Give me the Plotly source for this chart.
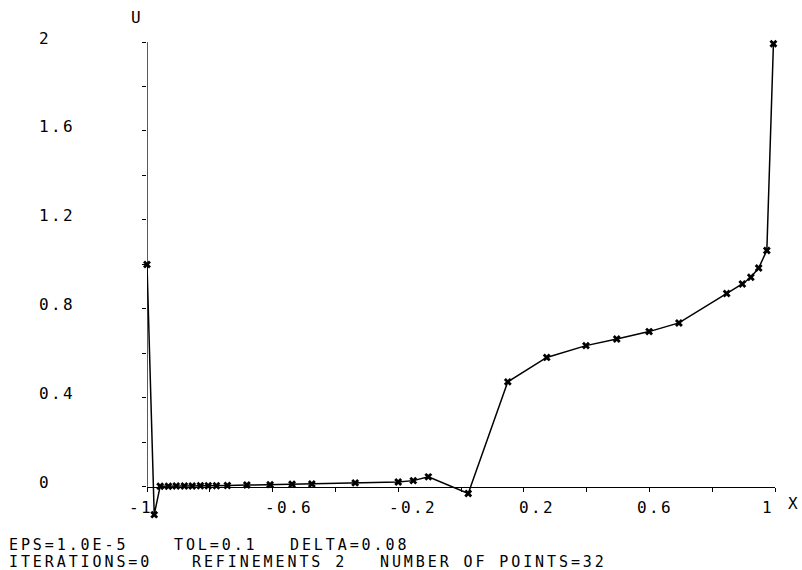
import plotly.graph_objects as go

# Computed solution U(X) at the 32 mesh points
x_vals = [-1.0, -0.977, -0.958, -0.932, -0.907, -0.881, -0.856, -0.830, -0.805,
          -0.779, -0.744, -0.682, -0.608, -0.538, -0.475, -0.337, -0.200, -0.152,
          -0.104, 0.023, 0.149, 0.273, 0.398, 0.496, 0.599, 0.694, 0.846, 0.896,
          0.923, 0.948, 0.974, 0.995]
u_vals = [1.0, -0.125, 0.003, 0.003, 0.004, 0.004, 0.004, 0.005, 0.005,
          0.005, 0.006, 0.008, 0.010, 0.012, 0.013, 0.018, 0.022, 0.028,
          0.045, -0.030, 0.472, 0.582, 0.635, 0.665, 0.698, 0.737, 0.869, 0.912,
          0.942, 0.984, 1.063, 1.992]

x_ticks = [-1, -0.8, -0.6, -0.4, -0.2, 0, 0.2, 0.4, 0.6, 0.8, 1]
y_ticks = [0, 0.2, 0.4, 0.6, 0.8, 1.0, 1.2, 1.4, 1.6, 1.8, 2.0]
x_label_vals = [-1, -0.6, -0.2, 0.2, 0.6, 1]
x_label_text = ["-1", "-0.6", "-0.2", "0.2", "0.6", "1"]
y_label_vals = [0, 0.4, 0.8, 1.2, 1.6, 2]
y_label_text = ["0", "0.4", "0.8", "1.2", "1.6", "2"]

info_line1 = ["EPS=1.0E-5", "TOL=0.1", "DELTA=0.08"]
info_line2 = ["ITERATIONS=0", "REFINEMENTS 2", "NUMBER OF POINTS=32"]

W, H = 802, 570
ML, MR, MT, MB = 147, 27, 42, 52
PW, PH = W - ML - MR, H - MT - MB
Y_MIN, Y_MAX = -0.14, 2.0

FONT = dict(family="DejaVu Sans Mono", size=16, color="black")
INFO_FONT = dict(family="DejaVu Sans Mono", size=15, color="black")


def px_x(p):
    return (p - ML) / PW


def px_y(p):
    return (H - MB - p) / PH


def spaced(s, gap=2.4):
    return '<span style="letter-spacing:%.1fpx">' % gap + s + "</span>"


fig = go.Figure()
fig.add_trace(go.Scatter(
    x=x_vals, y=u_vals, mode="lines+markers",
    line=dict(color="black", width=1.5),
    marker=dict(symbol="x", size=7, color="black"),
    cliponaxis=False, showlegend=False,
))

# vertical axis line only from U=0 to U=2
fig.add_shape(type="line", xref="x", yref="y", x0=-1, x1=-1, y0=0, y1=2,
              line=dict(color="black", width=1.3))

annotations = []
# x tick labels (plotter offsets relative to tick)
x_label_dx = [-6, 16, 15, 13, 6, -7]
for v, t, dx in zip(x_label_vals, x_label_text, x_label_dx):
    annotations.append(dict(x=v, y=px_y(507), xref="x", yref="paper", text=spaced(t),
                            showarrow=False, xshift=dx, font=FONT,
                            xanchor="center", yanchor="middle"))
# y tick labels, left aligned
for v, t in zip(y_label_vals, y_label_text):
    annotations.append(dict(x=px_x(37), y=v, xref="paper", yref="y", text=spaced(t),
                            showarrow=False, yshift=4, font=FONT,
                            xanchor="left", yanchor="middle"))
# axis names
annotations.append(dict(x=px_x(136), y=px_y(18), xref="paper", yref="paper", text="U",
                        showarrow=False, font=FONT, xanchor="center", yanchor="middle"))
annotations.append(dict(x=px_x(793), y=px_y(503), xref="paper", yref="paper", text="X",
                        showarrow=False, font=FONT, xanchor="center", yanchor="middle"))
# run parameters
for t, p in zip(info_line1, [7, 172, 288]):
    annotations.append(dict(x=px_x(p), y=px_y(545), xref="paper", yref="paper",
                            text=spaced(t, 2.9), showarrow=False, font=INFO_FONT,
                            xanchor="left", yanchor="middle"))
for t, p in zip(info_line2, [7, 190, 378]):
    annotations.append(dict(x=px_x(p), y=px_y(561.5), xref="paper", yref="paper",
                            text=spaced(t, 2.9), showarrow=False, font=INFO_FONT,
                            xanchor="left", yanchor="middle"))

fig.update_layout(
    width=W, height=H,
    margin=dict(l=ML, r=MR, t=MT, b=MB),
    paper_bgcolor="white", plot_bgcolor="white",
    annotations=annotations,
    xaxis=dict(range=[-1, 1], tickvals=x_ticks, showticklabels=False,
               ticks="outside", ticklen=4, tickcolor="black", tickwidth=1.3,
               showline=True, linecolor="black", linewidth=1.3,
               showgrid=False, zeroline=False,
               anchor="free", position=(0 - Y_MIN) / (Y_MAX - Y_MIN)),
    yaxis=dict(range=[Y_MIN, Y_MAX], tickvals=y_ticks, showticklabels=False,
               ticks="outside", ticklen=4, tickcolor="black", tickwidth=1.3,
               showline=False, showgrid=False, zeroline=False),
)

fig.write_html("out.html")
